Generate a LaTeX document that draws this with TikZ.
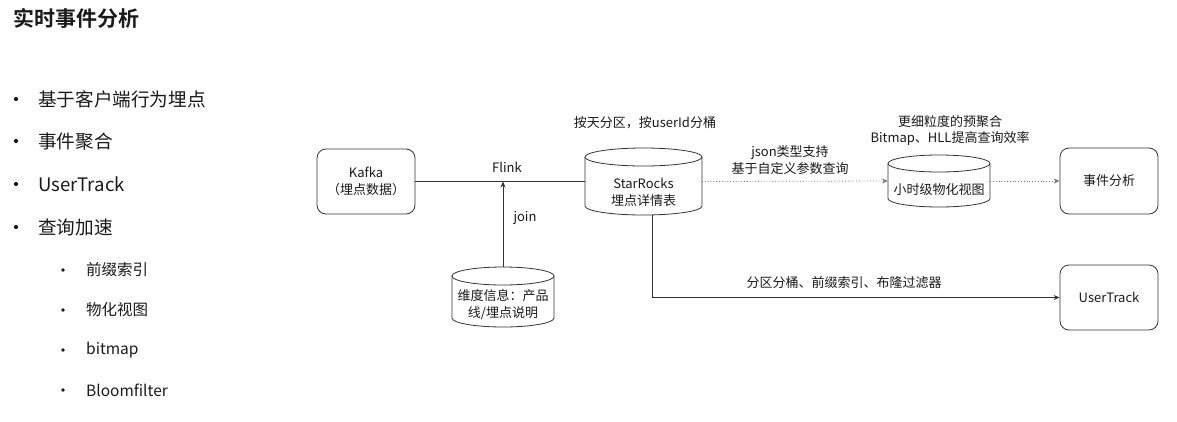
\documentclass[tikz,border=0pt]{standalone}
\usepackage{fontspec}
\setmainfont{Noto Sans CJK SC}[BoldFont={Noto Sans CJK SC Bold}]
\usetikzlibrary{arrows.meta,calc}
\definecolor{ln}{HTML}{333333}
\definecolor{dl}{HTML}{777777}
\definecolor{tx}{HTML}{1A1A1A}
\tikzset{
  boxnode/.style={draw=ln,line width=0.8pt,rounded corners=9pt,minimum width=98pt,minimum height=65pt,inner sep=0pt,align=center,font=\fontsize{13}{17}\selectfont,text=tx},
  ghost/.style={draw=none,inner sep=0pt},
  cylline/.style={draw=ln,line width=0.8pt},
  dtext/.style={align=center,font=\fontsize{13}{17}\selectfont,text=tx,inner sep=0pt},
  conn/.style={draw=ln,line width=0.8pt},
  arr/.style={conn,-{Stealth[length=6pt,width=5pt]}},
  dotarr/.style={draw=dl,line width=0.8pt,dotted,-{Stealth[length=6pt,width=5pt]}},
  titletext/.style={anchor=west,inner sep=0pt,font=\fontsize{21}{25}\selectfont\bfseries,text=tx},
  mainitem/.style={anchor=west,inner sep=0pt,font=\fontsize{18.6}{22}\selectfont,text=tx},
  subitem/.style={anchor=west,inner sep=0pt,font=\fontsize{15.5}{19}\selectfont,text=tx},
  dot/.style={circle,fill=tx,draw=none,inner sep=0pt,minimum size=4.2pt},
  sdot/.style={circle,fill=tx,draw=none,inner sep=0pt,minimum size=3.6pt}
}
\begin{document}
\begin{tikzpicture}[x=1pt,y=-1pt]
\useasboundingbox[fill=white] (0,0) rectangle (1177,421);

% left text
\node[titletext] (title) at (13,18) {实时事件分析};
\node[dot] (b1) at (16,99) {};
\node[mainitem] (t1) at (38,99) {基于客户端行为埋点};
\node[dot] (b2) at (16,141) {};
\node[mainitem] (t2) at (38,141) {事件聚合};
\node[dot] (b3) at (16,184) {};
\node[mainitem] (t3) at (38,184) {UserTrack};
\node[dot] (b4) at (16,227) {};
\node[mainitem] (t4) at (38,227) {查询加速};
\node[sdot] (s1) at (63,270) {};
\node[subitem] (u1) at (86,270) {前缀索引};
\node[sdot] (s2) at (63,310) {};
\node[subitem] (u2) at (86,310) {物化视图};
\node[sdot] (s3) at (63,350) {};
\node[subitem] (u3) at (86,350) {bitmap};
\node[sdot] (s4) at (63,390) {};
\node[subitem] (u4) at (86,390) {Bloomfilter};

% boxes
\node[boxnode] (kafka) at (366,181.5) {Kafka\\（埋点数据）};
\node[boxnode,minimum height=66pt] (ev) at (1109,181) {事件分析};
\node[boxnode] (ut) at (1109,297.5) {UserTrack};

% StarRocks cylinder
\node[ghost,minimum width=117pt,minimum height=67pt] (sr) at (643.5,181.5) {};
\draw[cylline] (585,157) -- (585,206) arc[start angle=180,end angle=0,x radius=58.5,y radius=9] -- (702,157);
\draw[cylline] (643.5,157) ellipse[x radius=58.5,y radius=9];
\node[dtext] (srt) at (643.5,192) {StarRocks\\埋点详情表};

% dimension cylinder
\node[ghost,minimum width=102pt,minimum height=60pt] (dim) at (503,297) {};
\draw[cylline] (452,276) -- (452,318) arc[start angle=180,end angle=0,x radius=51,y radius=9] -- (554,276);
\draw[cylline] (503,276) ellipse[x radius=51,y radius=9];
\node[dtext] (dimt) at (503,304.5) {维度信息：产品\\线/埋点说明};

% MV cylinder
\node[ghost,minimum width=102pt,minimum height=52pt] (mv) at (939,181) {};
\draw[cylline] (888,163.5) -- (888,198.5) arc[start angle=180,end angle=0,x radius=51,y radius=8.5] -- (990,163.5);
\draw[cylline] (939,163.5) ellipse[x radius=51,y radius=8.5];
\node[dtext] (mvt) at (939,190) {小时级物化视图};

% connectors
\coordinate (jn) at (503,181.5);
\draw[conn] (kafka.east) -- (sr.west);
\draw[arr] (dim.north) -- (jn);
\draw[arr] ($(sr.south)+(8.5,0)$) |- (ut.west);
\draw[dotarr] (sr.east) -- (mv.west);
\draw[dotarr] (mv.east) -- (ev.west);

% labels
\node[dtext] (l1) at (645,123) {按天分区，按userId分桶};
\node[dtext] (l2) at (507,167) {Flink};
\node[dtext] (l3) at (525,218) {join};
\node[dtext] (l4) at (790,160) {json类型支持\\基于自定义参数查询};
\node[dtext,font=\fontsize{13}{16}\selectfont] (l5) at (950,130.5) {更细粒度的预聚合\\Bitmap、HLL提高查询效率};
\node[dtext] (l6) at (844,283) {分区分桶、前缀索引、布隆过滤器};
\end{tikzpicture}
\end{document}
